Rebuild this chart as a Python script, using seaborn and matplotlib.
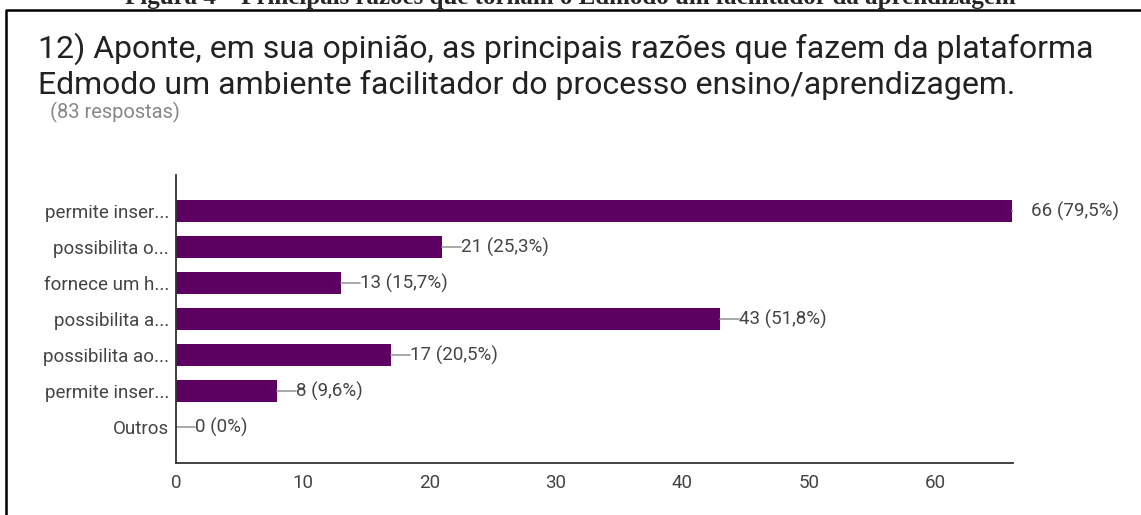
import numpy as np
import pandas as pd
import matplotlib
matplotlib.use('Agg')
import matplotlib.pyplot as plt
from matplotlib.lines import Line2D
import seaborn as sns

# dados do grafico (Google Forms, pergunta 12)
opcoes = ['permite inser...', 'possibilita o...', 'fornece um h...', 'possibilita a...',
          'possibilita ao...', 'permite inser...', 'Outros']
respostas = [66, 21, 13, 43, 17, 8, 0]
percentagens = ['79,5%', '25,3%', '15,7%', '51,8%', '20,5%', '9,6%', '0%']
total = 83
x_ticks = [0, 10, 20, 30, 40, 50, 60]

sns.set_theme(style='white')
plt.rcParams['font.family'] = ['Roboto', 'DejaVu Sans']

cor_barra = '#5c0062'
cor_texto = '#444444'
tam = 13.5

df = pd.DataFrame({'opcao': range(len(opcoes)), 'n': respostas})

fig = plt.figure(figsize=(11.41, 5.15), dpi=100)
ax = fig.add_axes([176 / 1141, 1 - 463 / 515, (1013 - 176) / 1141, (463 - 175) / 515])

sns.barplot(data=df, x='n', y='opcao', orient='h', color=cor_barra, saturation=1,
            width=0.6, ax=ax, linewidth=0)

ax.set_xlim(0, 66.1)
ax.set_ylim(len(opcoes), -1)
ax.set_yticks(range(len(opcoes)))
ax.set_yticklabels(opcoes)
ax.set_xticks(x_ticks)
ax.set_xlabel('')
ax.set_ylabel('')
ax.tick_params(axis='both', length=0, labelsize=tam, labelcolor=cor_texto)
ax.tick_params(axis='y', pad=5)
ax.tick_params(axis='x', pad=8)
for s in ['top', 'right']:
    ax.spines[s].set_visible(False)
for s in ['left', 'bottom']:
    ax.spines[s].set_color('#333333')
    ax.spines[s].set_linewidth(1.3)

# linhas guia e rotulos de valor
for i, (n, p) in enumerate(zip(respostas, percentagens)):
    ax.plot([n, n + 1.5], [i, i], color='#999999', lw=1.2, clip_on=True)
    ax.text(n + 1.5, i, f'{n} ({p})', va='center', ha='left', fontsize=tam,
            color=cor_texto, clip_on=False)

# titulo
fig.text(38 / 1141, 1 - 58 / 515, '12) Aponte, em sua opinião, as principais razões que fazem da plataforma',
         fontsize=23, color='#222222', va='baseline')
fig.text(38 / 1141, 1 - 94 / 515, 'Edmodo um ambiente facilitador do processo ensino/aprendizagem.',
         fontsize=23, color='#222222', va='baseline')
fig.text(50 / 1141, 1 - 118 / 515, f'({total} respostas)', fontsize=14.5, color='#888888', va='baseline')

# legenda da figura cortada no topo + moldura
fig.text(0.5, 1 - 4 / 515, 'Figura 4 – Principais razões que tornam o Edmodo um facilitador da aprendizagem',
         ha='center', va='baseline', fontsize=18, fontweight='bold', family='Liberation Serif')
fig.add_artist(Line2D([6 / 1141, 6 / 1141, 1], [0, 1 - 10 / 515, 1 - 10 / 515],
                      color='black', lw=1.8, transform=fig.transFigure))

fig.savefig('out.png', dpi=100)
